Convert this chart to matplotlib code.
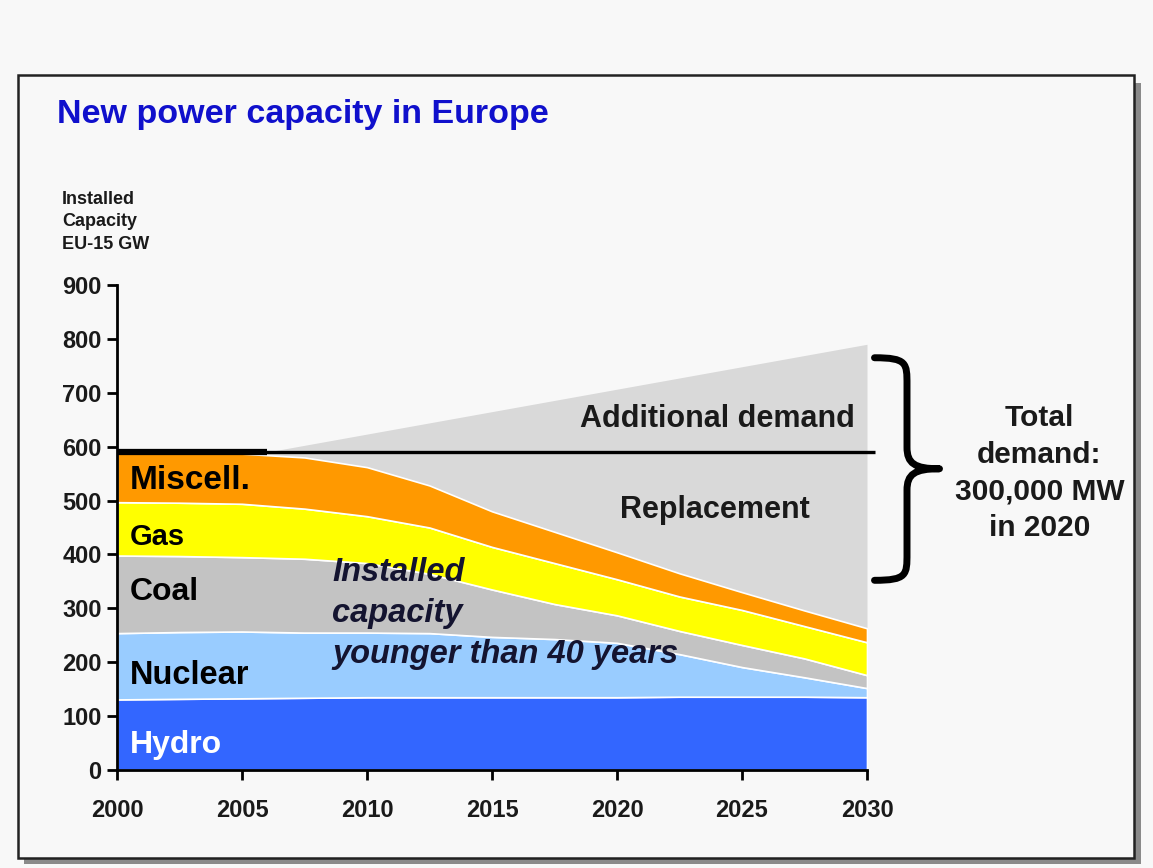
import matplotlib
matplotlib.use("Agg")
import matplotlib.pyplot as plt
from matplotlib.patches import Rectangle, PathPatch
from matplotlib.path import Path

plt.rcParams['font.family'] = ['Liberation Sans', 'DejaVu Sans']
plt.rcParams['font.weight'] = 'bold'

# data (GW, EU-15)
years = [2000, 2002.5, 2005, 2007.5, 2010, 2012.5, 2015, 2017.5, 2020, 2022.5, 2025, 2027.5, 2030]
hydro = [131, 132, 133, 134, 135, 135, 135, 135, 135, 136, 136, 136, 135]
nuclear = [123, 124, 124, 121, 120, 119, 112, 108, 101, 79, 55, 36, 17]
coal = [144, 141, 138, 137, 129, 110, 88, 65, 51, 43, 41, 35, 24]
gas = [99, 99, 99, 93, 87, 86, 79, 76, 67, 64, 65, 60, 61]
miscell = [91, 92, 93, 95, 91, 78, 66, 58, 50, 43, 33, 29, 26]

replacement_level = 590
demand_years = [2006, 2030]
demand = [590, 790]

x_ticks = [2000, 2005, 2010, 2015, 2020, 2025, 2030]
y_ticks = list(range(0, 901, 100))

bg = '#f8f8f8'
fig = plt.figure(figsize=(11.53, 8.68), dpi=100)
fig.patch.set_facecolor(bg)

# frame with shadow
W, H = 1153, 868
def fig_box(x0, y0, x1, y1):
    return (x0 / W, 1 - y1 / H), (x1 - x0) / W, (y1 - y0) / H

xy, w, h = fig_box(24, 83, 1141, 864)
fig.patches.append(Rectangle(xy, w, h, transform=fig.transFigure, facecolor='#8a8a8a',
                             edgecolor='none', zorder=-3))
xy, w, h = fig_box(18, 75, 1134, 858)
fig.patches.append(Rectangle(xy, w, h, transform=fig.transFigure, facecolor=bg,
                             edgecolor='#222222', linewidth=1.8, zorder=-2))

ax = fig.add_axes([117 / W, 1 - 770 / H, (867 - 117) / W, (770 - 285) / H])
ax.set_facecolor('none')

# installed capacity younger than 40 years
total = [a + b + c + d + e for a, b, c, d, e in zip(hydro, nuclear, coal, gas, miscell)]
ax.fill_between(years, total, replacement_level, color='#d9d9d9', linewidth=0, zorder=1)
ax.fill_between(demand_years, replacement_level, demand, color='#d9d9d9', linewidth=0, zorder=1)
ax.stackplot(years, hydro, nuclear, coal, gas, miscell,
             colors=['#3366ff', '#99ccff', '#c3c3c3', '#ffff00', '#ff9900'],
             edgecolor='white', linewidth=1.2, zorder=2)

ax.plot([2000, 2030.3], [replacement_level, replacement_level], color='black', lw=2.4,
        zorder=3, clip_on=False, solid_capstyle='butt')
ax.plot([2000, 2006], [replacement_level, replacement_level], color='black', lw=4.5,
        zorder=3, solid_capstyle='butt')

ax.set_xlim(2000, 2030)
ax.set_ylim(0, 900)
ax.set_xticks(x_ticks)
ax.set_yticks(y_ticks)
ax.tick_params(axis='x', labelsize=17, length=7, width=2, direction='out', pad=14)
ax.tick_params(axis='y', labelsize=17, length=7, width=2, direction='out', pad=4)
for lab in ax.get_xticklabels() + ax.get_yticklabels():
    lab.set_fontweight('bold')
    lab.set_color('#1a1a1a')
for s in ['top', 'right']:
    ax.spines[s].set_visible(False)
for s in ['left', 'bottom']:
    ax.spines[s].set_linewidth(2)
    ax.spines[s].set_zorder(5)

# layer labels
ax.text(2000.5, 537, 'Miscell.', fontsize=24, va='center', ha='left', zorder=6)
ax.text(2000.5, 432, 'Gas', fontsize=21, va='center', ha='left', zorder=6)
ax.text(2000.5, 330, 'Coal', fontsize=23, va='center', ha='left', zorder=6)
ax.text(2000.5, 176, 'Nuclear', fontsize=23.5, va='center', ha='left', zorder=6)
ax.text(2000.5, 46, 'Hydro', fontsize=23, va='center', ha='left', color='white', zorder=6)
ax.text(2008.6, 395, 'Installed\ncapacity\nyounger than 40 years', fontsize=23.5,
        style='italic', va='top', ha='left', color='#141430', linespacing=1.42, zorder=6)
ax.text(2029.5, 652, 'Additional demand', fontsize=22, va='center', ha='right',
        color='#1a1a1a', zorder=6)
ax.text(2023.9, 483, 'Replacement', fontsize=22, va='center', ha='center',
        color='#1a1a1a', zorder=6)

# curly brace
x0, x1, x2 = 2030.3, 2031.6, 2032.9
ytop, ymid, ybot = 765, 559, 352
verts = [(x0, ytop), (x1, ytop), (x1, ytop - 10), (x1, ytop - 50),
         (x1, ymid + 40),
         (x1, ymid + 10), (x1 + 0.3, ymid), (x2, ymid),
         (x1 + 0.3, ymid), (x1, ymid - 10), (x1, ymid - 40),
         (x1, ybot + 50),
         (x1, ybot + 10), (x1, ybot), (x0, ybot)]
codes = [Path.MOVETO, Path.CURVE4, Path.CURVE4, Path.CURVE4,
         Path.LINETO,
         Path.CURVE4, Path.CURVE4, Path.CURVE4,
         Path.CURVE4, Path.CURVE4, Path.CURVE4,
         Path.LINETO,
         Path.CURVE4, Path.CURVE4, Path.CURVE4]
ax.add_patch(PathPatch(Path(verts, codes), fill=False, lw=5, edgecolor='black',
                       clip_on=False, zorder=6, capstyle='round', joinstyle='round'))

ax.text(2036.9, 551, 'Total\ndemand:\n300,000 MW\nin 2020', fontsize=21.5, ha='center',
        va='center', color='#1a1a1a', linespacing=1.4, clip_on=False)

# title and axis label
fig.text(57 / W, 1 - 115 / H, 'New power capacity in Europe', fontsize=24.5,
         color='#1010cc', va='center', ha='left')
fig.text(62 / W, 1 - 222 / H, 'Installed\nCapacity\nEU-15 GW', fontsize=13,
         va='center', ha='left', linespacing=1.45, color='#1a1a1a')

fig.savefig('out.png', dpi=100, facecolor=bg)
